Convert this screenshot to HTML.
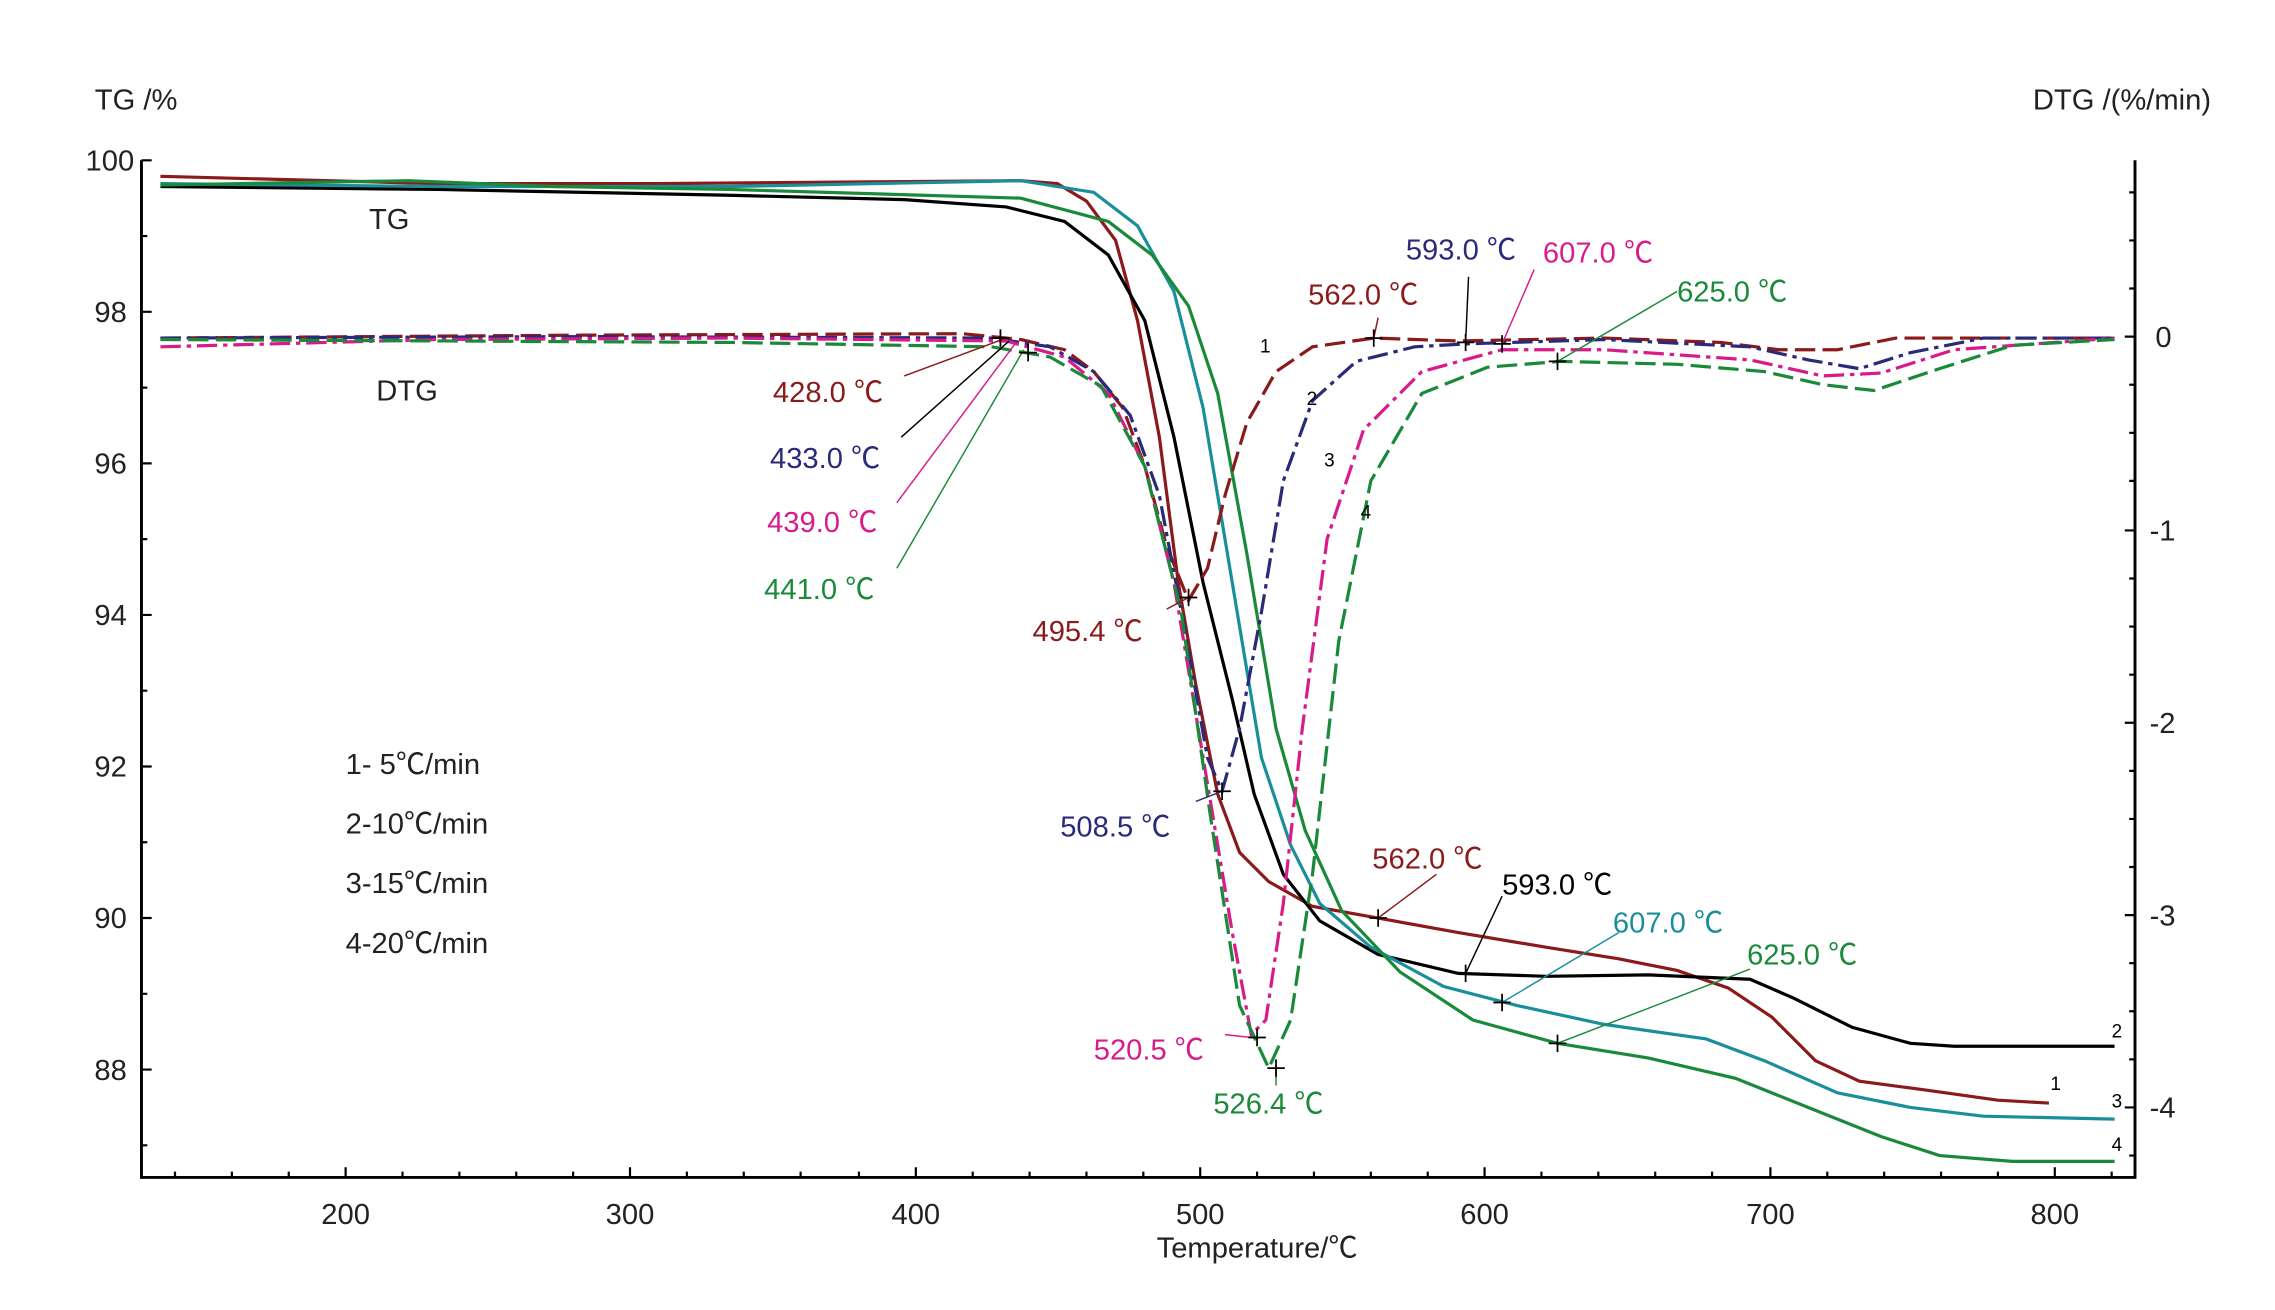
<!DOCTYPE html>
<html><head><meta charset="utf-8"><style>
html,body{margin:0;padding:0;background:#fff;}
svg{display:block;}
text{font-family:"Liberation Sans","Noto Sans CJK SC",sans-serif;}
</style></head><body>
<svg width="2275" height="1310" viewBox="0 0 1560 899" preserveAspectRatio="none" xmlns="http://www.w3.org/2000/svg">
<rect width="1560" height="899" fill="#fff"/>
<!-- axes -->
<g stroke="#000" stroke-width="2" fill="none">
<path d="M97,110 V808 H1464 V110"/>
</g>
<g stroke="#000" stroke-width="1.5">
<!-- left ticks -->
<path d="M97,110h7M97,214h7M97,318h7M97,422h7M97,526h7M97,630h7M97,734h7"/>
<path d="M97,162h4M97,266h4M97,370h4M97,474h4M97,578h4M97,682h4M97,786h4"/>
<!-- right ticks -->
<path d="M1464,231h-7M1464,364h-7M1464,496h-7M1464,628h-7M1464,760h-7"/>
<path d="M1464,132h-4M1464,165h-4M1464,198h-4M1464,264h-4M1464,297h-4M1464,330h-4M1464,397h-4M1464,430h-4M1464,463h-4M1464,529h-4M1464,562h-4M1464,595h-4M1464,661h-4M1464,694h-4M1464,727h-4M1464,793h-4"/>
<!-- bottom ticks -->
<path d="M237,808v-7M432,808v-7M628,808v-7M823,808v-7M1018,808v-7M1214,808v-7M1409,808v-7"/>
<path d="M120,808v-4M159,808v-4M198,808v-4M276,808v-4M315,808v-4M354,808v-4M393,808v-4M471,808v-4M510,808v-4M549,808v-4M589,808v-4M667,808v-4M706,808v-4M745,808v-4M784,808v-4M862,808v-4M901,808v-4M940,808v-4M979,808v-4M1057,808v-4M1096,808v-4M1135,808v-4M1174,808v-4M1253,808v-4M1292,808v-4M1331,808v-4M1370,808v-4M1448,808v-4"/>
</g>
<g font-size="20" fill="#222">
<text x="92" y="117" text-anchor="end">100</text>
<text x="87" y="221" text-anchor="end">98</text>
<text x="87" y="325" text-anchor="end">96</text>
<text x="87" y="429" text-anchor="end">94</text>
<text x="87" y="533" text-anchor="end">92</text>
<text x="87" y="637" text-anchor="end">90</text>
<text x="87" y="741" text-anchor="end">88</text>
<text x="1478" y="238">0</text>
<text x="1474" y="371">-1</text>
<text x="1474" y="503">-2</text>
<text x="1474" y="635">-3</text>
<text x="1474" y="767">-4</text>
<g text-anchor="middle">
<text x="237" y="840">200</text><text x="432" y="840">300</text><text x="628" y="840">400</text><text x="823" y="840">500</text><text x="1018" y="840">600</text><text x="1214" y="840">700</text><text x="1409" y="840">800</text>
</g>
<text x="65" y="75">TG /%</text>
<text x="1394" y="75">DTG /(%/min)</text>
<text x="862" y="863" text-anchor="middle" font-family="Liberation Serif,serif">Temperature/℃</text>
<text x="253" y="157">TG</text>
<text x="258" y="275">DTG</text>
<text x="237" y="531">1- 5℃/min</text>
<text x="237" y="572">2-10℃/min</text>
<text x="237" y="613">3-15℃/min</text>
<text x="237" y="654">4-20℃/min</text>
</g>
<!-- TG curves -->
<g fill="none" stroke-width="2.2">
<path stroke="#8b1a1a" d="M110,121 L300,126 L450,126 L700,124 L725,126 L745,138 L765,165 L780,220 L795,300 L808,400 L820,470 L835,545 L850,585 L870,605 L900,622 L945,630 L1000,640 L1060,650 L1110,658 L1150,666 L1185,678 L1215,698 L1245,728 L1275,742 L1320,748 L1370,755 L1405,757"/>
<path stroke="#000" d="M110,128 L300,130 L500,134 L620,137 L690,142 L730,152 L760,175 L785,220 L805,300 L825,400 L845,480 L860,545 L880,600 L905,632 L945,655 L1000,668 L1060,670 L1130,669 L1200,672 L1230,685 L1270,705 L1310,716 L1340,718 L1450,718"/>
<path stroke="#1a8f9a" d="M110,126 L300,128 L500,128 L700,124 L750,132 L780,155 L805,200 L825,280 L845,400 L865,520 L885,580 L905,620 L940,650 L990,677 L1040,690 L1100,703 L1170,713 L1210,728 L1260,750 L1310,760 L1360,766 L1450,768"/>
<path stroke="#1a8a3a" d="M110,127 L280,124 L380,128 L500,130 L700,136 L760,152 L790,175 L815,210 L835,270 L855,380 L875,500 L895,570 L920,625 L960,667 L1010,700 L1068,716 L1130,726 L1190,740 L1240,760 L1290,780 L1330,793 L1380,797 L1450,797"/>
</g>
<!-- DTG curves -->
<g fill="none" stroke-width="2.2">
<path stroke="#8b1a1a" stroke-dasharray="14,5" d="M110,232 L400,230 L660,229 L700,233 L730,240 L750,255 L770,280 L785,320 L800,375 L815,412 L828,390 L840,340 L855,290 L875,255 L900,238 L942,232 L1000,234 L1100,232 L1180,235 L1220,240 L1260,240 L1300,232 L1450,232"/>
<path stroke="#2a2a7a" stroke-dasharray="14,4,3,4" d="M110,232 L400,231 L680,232 L720,238 L750,255 L775,285 L795,340 L812,430 L828,520 L838,543 L850,500 L865,420 L880,330 L900,275 L930,248 L970,238 L1005,236 L1100,233 L1200,238 L1240,247 L1275,253 L1310,242 L1360,232 L1450,232"/>
<path stroke="#d81b8a" stroke-dasharray="14,4,3,4" d="M110,238 L300,233 L500,232 L690,234 L730,245 L760,270 L785,320 L805,400 L825,520 L845,640 L858,710 L868,700 L880,620 L893,500 L910,370 L935,295 L975,255 L1030,240 L1100,240 L1200,247 L1250,258 L1290,256 L1340,240 L1450,232"/>
<path stroke="#1a8a3a" stroke-dasharray="14,5" d="M110,233 L500,235 L680,238 L720,245 L755,265 L785,320 L810,420 L830,560 L850,690 L870,733 L885,700 L900,600 L918,440 L940,330 L975,270 L1020,252 L1070,248 L1150,250 L1210,255 L1250,264 L1285,268 L1330,253 L1380,237 L1450,233"/>
</g>
<!-- leader lines -->
<g stroke-width="1" fill="none">
<path stroke="#8b1a1a" d="M620,258 L690,232"/>
<path stroke="#000" d="M618,300 L692,234"/>
<path stroke="#d81b8a" d="M615,345 L696,236"/>
<path stroke="#1a8a3a" d="M615,390 L702,240"/>
<path stroke="#8b1a1a" d="M800,418 L815,410"/>
<path stroke="#2a2a7a" d="M820,550 L838,543"/>
<path stroke="#d81b8a" d="M840,710 L858,712"/>
<path stroke="#1a8a3a" d="M875,745 L875,733"/>
<path stroke="#000" d="M1005,235 L1007,190"/>
<path stroke="#d81b8a" d="M1030,236 L1052,185"/>
<path stroke="#1a8a3a" d="M1068,248 L1150,200"/>
<path stroke="#8b1a1a" d="M942,232 L945,218"/>
<path stroke="#8b1a1a" d="M945,630 L985,600"/>
<path stroke="#000" d="M1005,668 L1030,615"/>
<path stroke="#1a8f9a" d="M1030,688 L1110,640"/>
<path stroke="#1a8a3a" d="M1068,716 L1200,665"/>
</g>
<g font-size="20">
<text x="530" y="276" fill="#8b1a1a">428.0 ℃</text>
<text x="528" y="321" fill="#2a2a7a">433.0 ℃</text>
<text x="526" y="365" fill="#d81b8a">439.0 ℃</text>
<text x="524" y="411" fill="#1a8a3a">441.0 ℃</text>
<text x="708" y="440" fill="#8b1a1a">495.4 ℃</text>
<text x="727" y="574" fill="#2a2a7a">508.5 ℃</text>
<text x="750" y="727" fill="#d81b8a">520.5 ℃</text>
<text x="832" y="764" fill="#1a8a3a">526.4 ℃</text>
<text x="897" y="209" fill="#8b1a1a">562.0 ℃</text>
<text x="964" y="178" fill="#2a2a7a">593.0 ℃</text>
<text x="1058" y="180" fill="#d81b8a">607.0 ℃</text>
<text x="1150" y="207" fill="#1a8a3a">625.0 ℃</text>
<text x="941" y="596" fill="#8b1a1a">562.0 ℃</text>
<text x="1030" y="614" fill="#000">593.0 ℃</text>
<text x="1106" y="640" fill="#1a8f9a">607.0 ℃</text>
<text x="1198" y="662" fill="#1a8a3a">625.0 ℃</text>
</g>
<g font-size="13" font-family="Liberation Serif,serif" fill="#000">
<text x="864" y="242">1</text><text x="896" y="278">2</text><text x="908" y="320">3</text><text x="933" y="356">4</text>
<text x="1448" y="712">2</text><text x="1406" y="748">1</text><text x="1448" y="760">3</text><text x="1448" y="790">4</text>
</g>
<!-- markers -->
<g stroke="#000" stroke-width="1.2">
<path d="M686,226v12M680,232h12M705,236v12M699,242h12M815,404v12M809,410h12M838,537v12M832,543h12M862,706v12M856,712h12M875,727v12M869,733h12M942,226v12M936,232h12M1005,229v12M999,235h12M1030,230v12M1024,236h12M1068,242v12M1062,248h12M945,624v12M939,630h12M1005,662v12M999,668h12M1030,682v12M1024,688h12M1068,710v12M1062,716h12"/>
</g>
</svg>
</body></html>
